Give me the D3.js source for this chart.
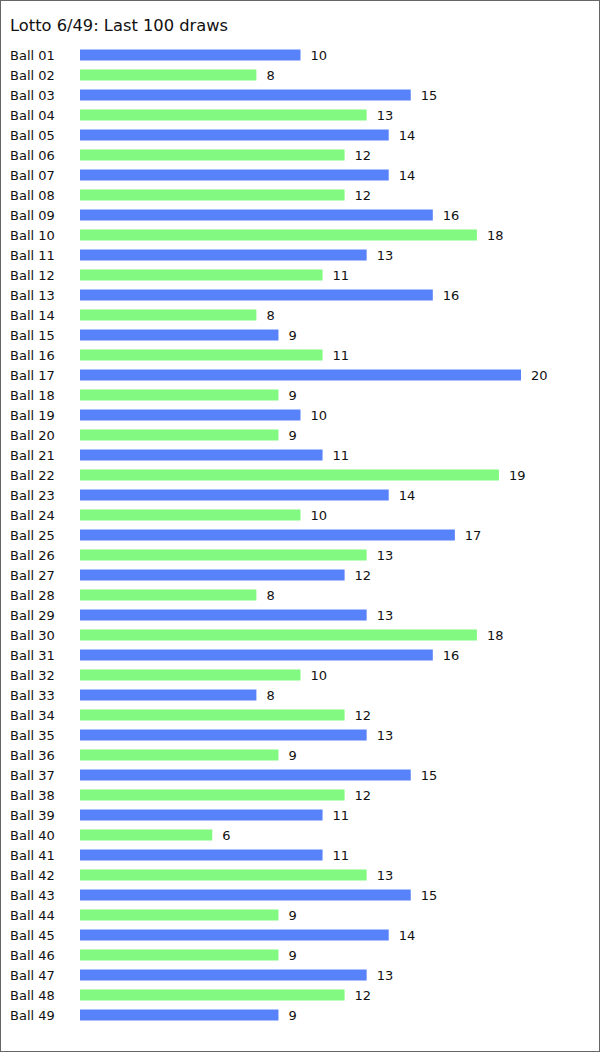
<!DOCTYPE html>
<html><head><meta charset="utf-8">
<script src="https://cdn.jsdelivr.net/npm/d3@7"></script>
<style>body{margin:0;background:#fff}svg{display:block}</style>
</head><body>
<script>
const title = "Lotto 6/49: Last 100 draws";
const balls = d3.range(1, 50).map(i => "Ball " + String(i).padStart(2, "0"));
const counts = [10,8,15,13,14,12,14,12,16,18,13,11,16,8,9,11,20,9,10,9,11,19,14,10,17,13,12,8,13,18,16,10,8,12,13,9,15,12,11,6,11,13,15,9,14,9,13,12,9];
const colors = ["#5882fa", "#82fa82"];

const W = 600, H = 1052;
const svg = d3.select("body").append("svg").attr("width", W).attr("height", H);
svg.append("rect").attr("x", 0.5).attr("y", 0.5).attr("width", W - 1).attr("height", H - 1)
  .attr("fill", "#fff").attr("stroke", "#666");
svg.append("text").attr("x", 10).attr("y", 30.5).attr("font-family", "DejaVu Sans")
  .attr("font-size", 16.3).attr("fill", "#111").text(title);

const x = d3.scaleLinear().domain([0, 20]).range([80, 521]);
const y = d3.scaleBand().domain(balls).range([45, 1025]).paddingInner(0.45).paddingOuter(0.225);

const g = svg.append("g").attr("font-family", "DejaVu Sans").attr("font-size", 13).attr("fill", "#111");
const rows = g.selectAll("g").data(balls).join("g");
rows.append("text").attr("x", 10).attr("y", d => y(d) + y.bandwidth() / 2).attr("dy", "0.36em").text(d => d);
rows.append("rect").attr("x", x(0)).attr("y", d => y(d))
  .attr("width", (d, i) => x(counts[i]) - x(0)).attr("height", y.bandwidth())
  .attr("fill", (d, i) => colors[i % 2]);
rows.append("text").attr("x", (d, i) => x(counts[i]) + 10).attr("y", d => y(d) + y.bandwidth() / 2)
  .attr("dy", "0.36em").text((d, i) => counts[i]);
</script>
</body></html>
